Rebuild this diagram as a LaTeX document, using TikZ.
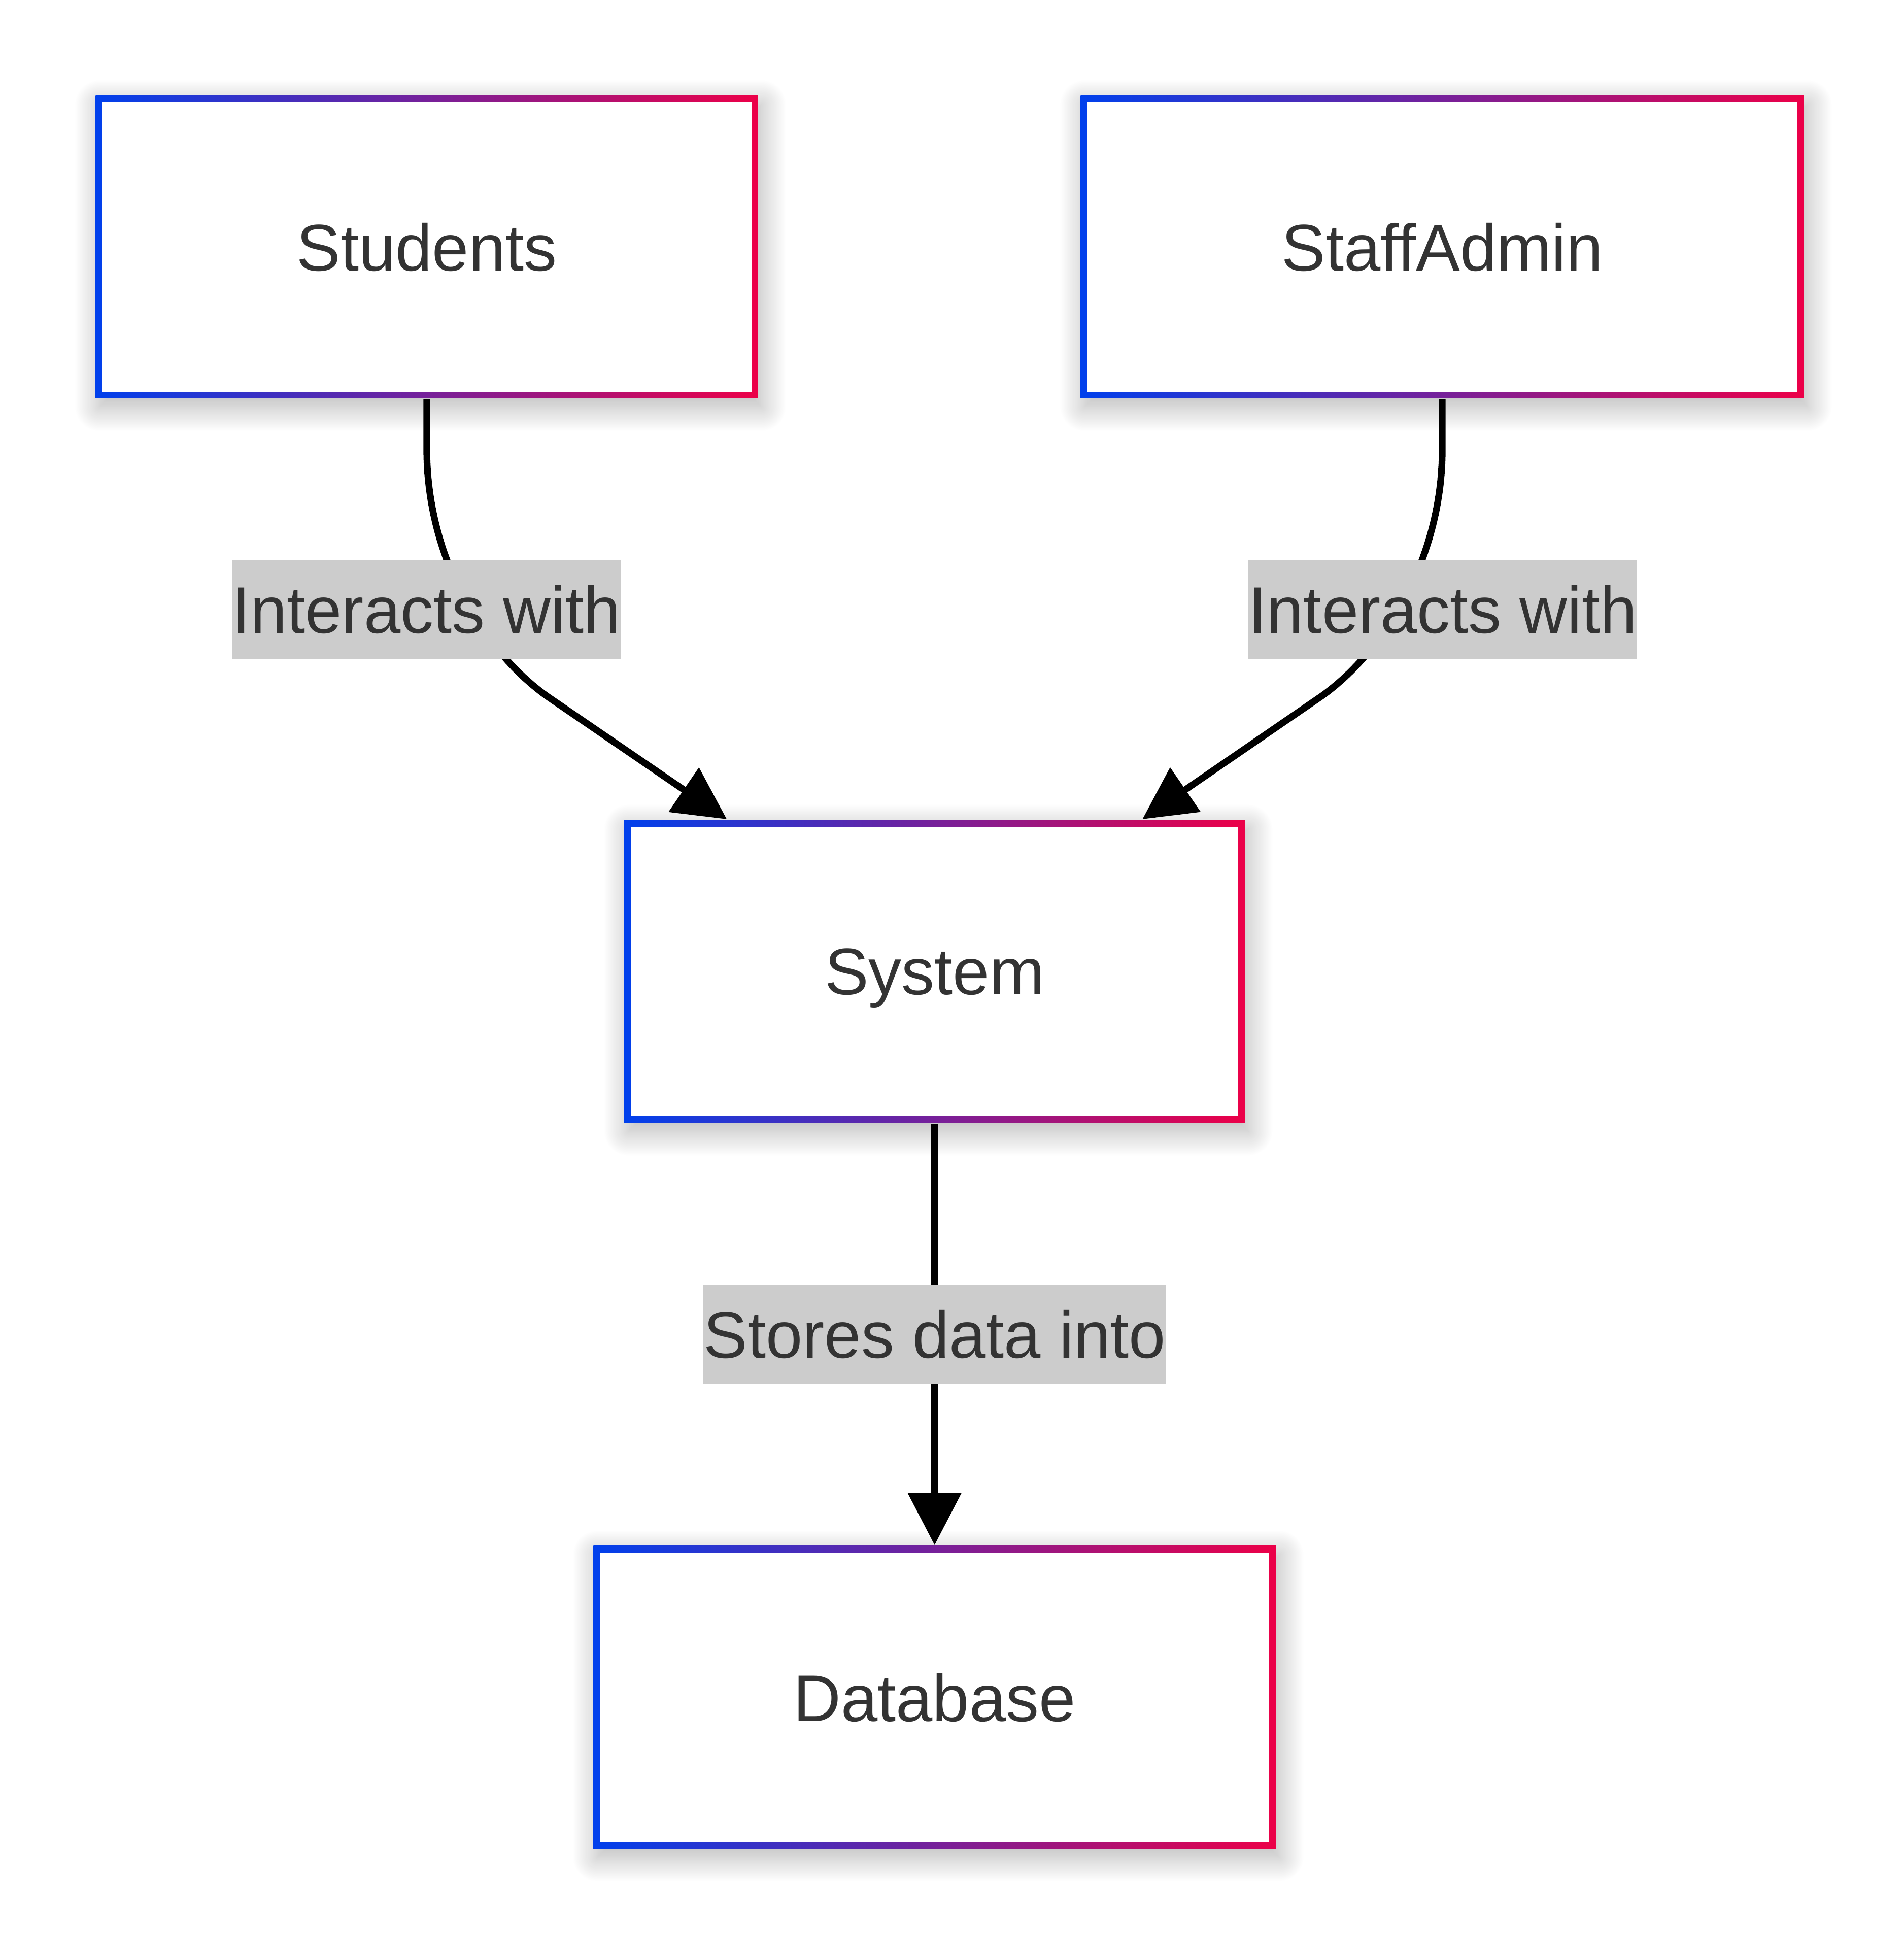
\documentclass[tikz,border=0pt]{standalone}
\usepackage{fontspec}
\setmainfont{Liberation Sans}
\usetikzlibrary{arrows.meta,shadows.blur}
\definecolor{mblue}{RGB}{0,64,236}
\definecolor{mred}{RGB}{236,0,72}
\definecolor{lblgray}{RGB}{204,204,204}
\definecolor{txtgray}{RGB}{51,51,51}

\begin{document}
\begin{tikzpicture}[
	box/.style={rectangle, inner sep=0pt, minimum height=2.435cm, text depth=0pt, fill=white, text=txtgray,
		font=\fontsize{15.1pt}{18pt}\selectfont,
		blur shadow={shadow xshift=0.03cm, shadow yshift=-0.07cm, shadow blur radius=0.2cm, shadow blur steps=40, shadow opacity=30},
		path picture={
			\shade[left color=mblue, right color=mred] (path picture bounding box.south west) rectangle (path picture bounding box.north east);
			\fill[white] ([shift={(0.053,0.053)}]path picture bounding box.south west) rectangle ([shift={(-0.053,-0.053)}]path picture bounding box.north east);
		}},
	lbl/.style={fill=lblgray, text=txtgray, inner xsep=0pt, inner ysep=0pt, minimum height=0.79cm,
		font=\fontsize{15.1pt}{18pt}\selectfont},
	link/.style={line width=0.054cm, -{Triangle[length=0.42cm,width=0.42cm]}}
	]
						\useasboundingbox (0,0) rectangle (15.32,-15.68);
						
						% boxes
						\node[box, minimum width=5.33cm] (stu) at (3.434,-1.987) {Students};
						\node[box, minimum width=5.82cm] (stf) at (11.605,-1.987) {StaffAdmin};
						\node[box, minimum width=4.99cm] (sys) at (7.52,-7.815) {System};
						\node[box, minimum width=5.49cm] (db) at (7.52,-13.655) {Database};
						
						% links
						\draw[link] (stu.south) -- ++(0,-0.4) .. controls +(0,-0.9) and (3.91,-5.25) .. (4.4,-5.6) -- ([xshift=0.83cm]sys.north west);
						\draw[link] (stf.south) -- ++(0,-0.4) .. controls +(0,-0.9) and (11.125,-5.25) .. (10.635,-5.6) -- ([xshift=-0.83cm]sys.north east);
						\draw[link] (sys.south) -- (db.north);
						
						% labels
						\node[lbl] (lstu) at (3.43,-4.905) {Interacts with};
						\node[lbl] (lstf) at (11.61,-4.905) {Interacts with};
						\node[lbl] (lsys) at (7.52,-10.735) {Stores data into};
						
						%\node at (7.52,-15.3) {};
\end{tikzpicture}
\end{document}
